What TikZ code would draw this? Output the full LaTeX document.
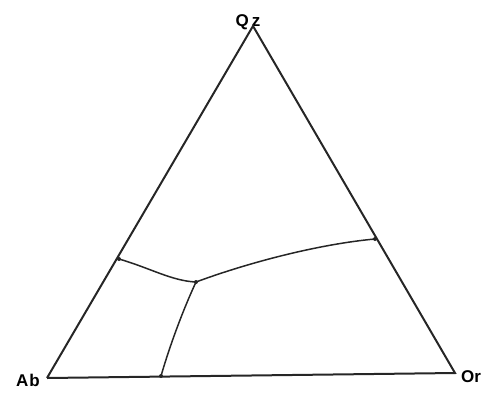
\documentclass[tikz,border=0pt]{standalone}
\usepackage{fontspec}
\setsansfont{Liberation Sans}
\usetikzlibrary{positioning}

\begin{document}
\begin{tikzpicture}[x=1pt, y=-1pt,
  every node/.style={font=\sffamily\bfseries\fontsize{17}{17}\selectfont, inner sep=0pt},
  side/.style={line width=2pt, black!85},
  boundary/.style={line width=1.5pt, black!85}]
  \useasboundingbox (0,0) rectangle (482,402);

  % === Triangle corners ===
  \coordinate (qz) at (253,26);
  \coordinate (ab) at (47,378);
  \coordinate (or) at (455,373);

  % Corner labels
  \node (qzlabel) at (248,22) {Q\,z};
  \node (ablabel) at (28,380) {A\kern1pt b};
  \node (orlabel) at (471,377) {Or};

  % Sides
  \draw[side] (ab) -- (qz) -- (or) -- (ab);

  % === Field boundaries ===
  \coordinate (leftpt) at (119,259);
  \coordinate (triple) at (196,282);
  \coordinate (rightpt) at (375,239);
  \coordinate (bottompt) at (161,376);

  \draw[boundary] (leftpt) .. controls (150,268) and (172,281) .. (triple);
  \draw[boundary] (triple) .. controls (250,262) and (320,244) .. (rightpt);
  \draw[boundary] (triple) .. controls (183,310) and (170,345) .. (bottompt);

  % Junction marks
  \foreach \p in {leftpt,triple,rightpt,bottompt}
    \fill[black!85] (\p) circle (2pt);

\end{tikzpicture}
\end{document}
